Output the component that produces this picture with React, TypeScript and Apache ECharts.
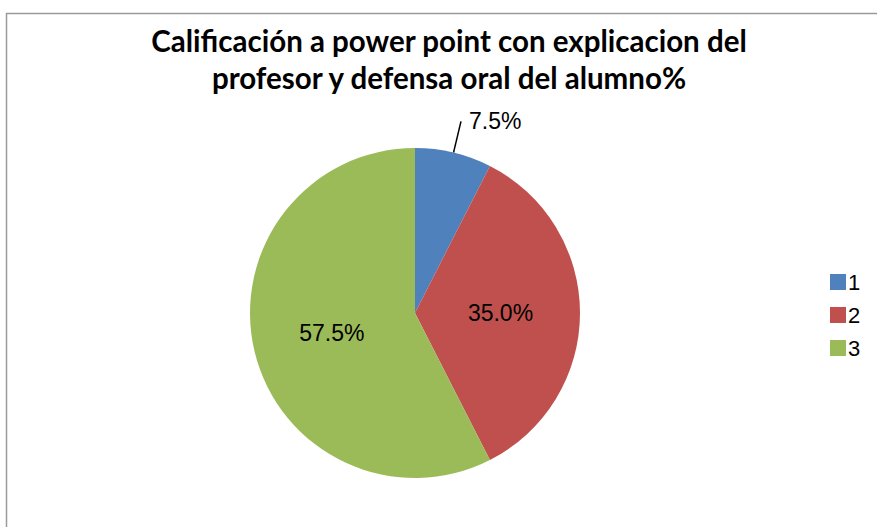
import React, { useEffect, useRef } from "react";
import * as echarts from "echarts";

const titleLines = ["Calificación a power point con explicacion del", "profesor y defensa oral del alumno%"];
const categories = ["1", "2", "3"];
const values = [3, 14, 23];
const colors = ["#4F81BD", "#C0504D", "#9BBB59"];

export default function App() {
  const ref = useRef<HTMLDivElement>(null);
  useEffect(() => {
    if (!ref.current) return;
    const chart = echarts.init(ref.current, null, { renderer: "svg" });
    const total = values.reduce((a, b) => a + b, 0);
    chart.setOption({
      animation: false,
      backgroundColor: "#ffffff",
      title: {
        text: titleLines.join("\n"),
        left: 444,
        top: 17,
        textAlign: "center",
        textStyle: {
          fontFamily: "Lato",
          fontWeight: "bold",
          fontSize: 29.5,
          lineHeight: 37,
          color: "#000000",
        },
      },
      legend: {
        orient: "vertical",
        left: 825,
        top: 266,
        icon: "rect",
        itemWidth: 16,
        itemHeight: 16,
        itemGap: 11,
        textStyle: { fontFamily: "Liberation Sans", fontSize: 22, lineHeight: 21, color: "#000", padding: [0, 0, 0, -3] },
        data: categories,
      },
      graphic: [
        {
          type: "rect",
          shape: { x: 6.5, y: 13.5, width: 1000, height: 1000 },
          style: { fill: "none", stroke: "#9a9a9a", lineWidth: 1.5 },
          silent: true,
        },
      ],
      series: [
        {
          type: "pie",
          center: [415, 313],
          radius: [0, 165],
          startAngle: 90,
          clockwise: true,
          label: {
            position: "inside",
            fontFamily: "Liberation Sans",
            fontSize: 23,
            color: "#000",
            formatter: (p: any) => ((p.value / total) * 100).toFixed(1) + "%",
          },
          labelLine: { show: false },
          data: categories.map((c, i) => ({
            name: c,
            value: values[i],
            itemStyle: { color: colors[i] },
            ...(i === 0
              ? {
                  label: { position: "outside", distanceToLabelLine: 8 },
                  labelLine: { show: true, length: 32, length2: 0, lineStyle: { color: "#000", width: 1.5 } },
                }
              : {}),
          })),
        },
      ],
    });
    return () => chart.dispose();
  }, []);
  return <div ref={ref} style={{ position: "absolute", left: 0, top: 0, width: 877, height: 527 }} />;
}
